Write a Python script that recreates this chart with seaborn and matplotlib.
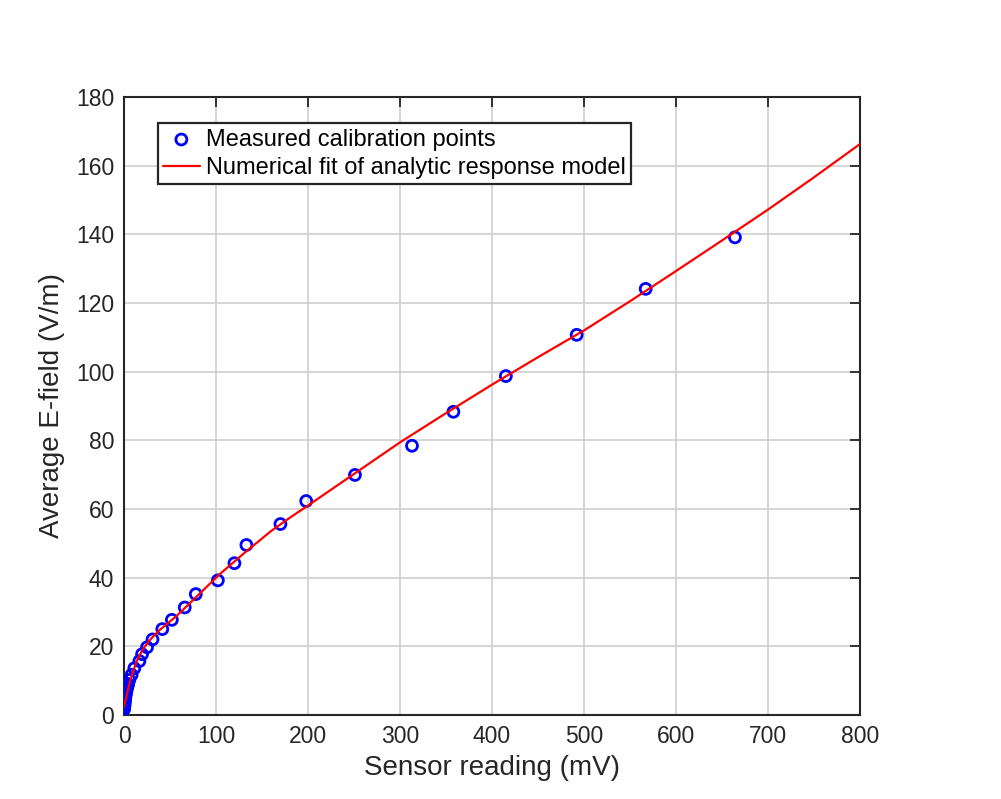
import numpy as np
import pandas as pd
import matplotlib
matplotlib.use("Agg")
import matplotlib.pyplot as plt
import seaborn as sns

# measured calibration points
reading_mv = [664, 567, 492, 415, 358, 313, 251, 198, 170, 133, 120, 102, 78, 66,
              52, 41.6, 31, 25, 19.6, 16.7, 11.2, 8.3, 5.8, 4.5, 3.8, 3.2, 2.7,
              2.3, 2.0, 1.7, 1.4, 1.2, 1.0, 0.8, 0.65, 0.5, 0.4, 0.3, 0.2, 0.15, 0.1]
efield = [139.1, 124.1, 110.7, 98.7, 88.3, 78.4, 69.9, 62.3, 55.6, 49.5, 44.2,
          39.2, 35.2, 31.3, 27.7, 25.0, 22.0, 19.7, 17.7, 15.7, 13.6, 11.7, 10.2,
          9.0, 8.4, 7.8, 7.2, 6.7, 6.2, 5.7, 5.2, 4.8, 4.4, 4.0, 3.6, 3.2, 2.9,
          2.6, 2.3, 2.0, 1.7]

# fitted response curve
fit_mv = [0.2, 0.5, 1, 2, 4, 6.5, 10, 14, 21, 30, 39, 57, 79, 104, 117, 130, 145,
          160, 180, 200, 250, 300, 350, 400, 450, 500, 550, 600, 650, 700, 750, 800]
fit_e = [2.4, 3.0, 3.6, 4.6, 7.0, 9.8, 12.8, 15.8, 19.4, 22.4, 24.8, 28.8, 34.5,
         41.0, 44.0, 47.0, 50.3, 53.6, 57.4, 61.0, 70.2, 79.4, 87.9, 96.2, 104.2,
         112.0, 120.5, 129.3, 138.2, 147.2, 156.6, 166.3]

points = pd.DataFrame({"mv": reading_mv, "e": efield})
fit = pd.DataFrame({"mv": fit_mv, "e": fit_e})

sns.set_style("white")
plt.rcParams['font.family'] = ['Liberation Sans', 'DejaVu Sans']

fig = plt.figure(figsize=(10.01, 7.99), dpi=100)
ax = fig.add_axes([0.1239, 0.1052, 0.7353, 0.7735])

sns.scatterplot(data=points, x="mv", y="e", ax=ax, marker="o", s=62,
                facecolor="none", edgecolor="#0000ff", linewidth=2.0,
                label="Measured calibration points", zorder=3)
sns.lineplot(data=fit, x="mv", y="e", ax=ax, color="#ff0000", linewidth=1.6,
             label="Numerical fit of analytic response model", zorder=4,
             sort=True, estimator=None)

ax.set_xlim(0, 800)
ax.set_ylim(0, 180)
ax.set_xticks(np.arange(0, 801, 100))
ax.set_yticks(np.arange(0, 181, 20))
ax.grid(True, color="#d2d2d2", linewidth=1.3)
ax.set_axisbelow(True)

ax.tick_params(direction="in", length=7, width=1.3, top=True, right=True,
               labelsize=16.5, colors="#262626", pad=7)
for s in ax.spines.values():
    s.set_color("#262626")
    s.set_linewidth(1.5)

ax.set_xlabel("Sensor reading (mV)", fontsize=20, color="#262626", labelpad=5)
ax.set_ylabel("Average E-field (V/m)", fontsize=20, color="#262626", labelpad=8)

leg = ax.legend(loc="upper left", bbox_to_anchor=(0.046, 0.957), fontsize=17,
                frameon=True, fancybox=False, framealpha=1, borderpad=0.22,
                borderaxespad=0, handlelength=1.55, handletextpad=0.25,
                labelspacing=0.28)
leg.get_frame().set_edgecolor("#262626")
leg.get_frame().set_linewidth(1.6)
for t in leg.get_texts():
    t.set_color("black")

fig.savefig("out.png", dpi=100, facecolor="white")
